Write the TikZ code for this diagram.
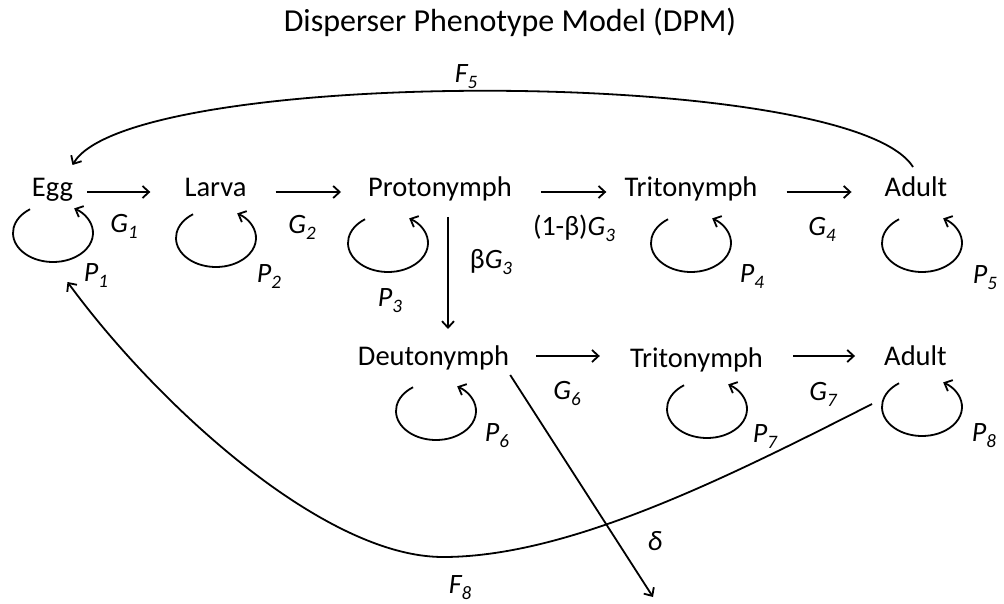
\documentclass[tikz,border=0pt]{standalone}
\usepackage{fontspec}
\setmainfont{Carlito}
\usetikzlibrary{arrows.meta}
\newcommand{\rsub}[1]{\raisebox{-6pt}{\fontsize{19}{19}\selectfont #1}}

\begin{document}
\begin{tikzpicture}[x=1pt, y=1pt,
  stage/.style={anchor=base, inner sep=0pt, font=\fontsize{28.5}{32}\selectfont},
  rate/.style={inner sep=0pt, font=\fontsize{28}{32}\selectfont\itshape},
  flow/.style={->, line width=1.8pt},
  >={Straight Barb[length=6.5pt, width=12pt]}
]
  \useasboundingbox (0,0) rectangle (1004,-604);
  \node[stage, font=\fontsize{32}{36}\selectfont] (title) at (510,-32)
    {Disperser Phenotype Model (DPM)};

  \node[stage] (egg)    at (52.5,-197) {Egg};
  \node[stage] (larva)  at (215.5,-197) {Larva};
  \node[stage] (proto)  at (440,-197) {Protonymph};
  \node[stage] (trito)  at (691,-197) {Tritonymph};
  \node[stage] (adult)  at (916,-197) {Adult};
  \node[stage] (deuto)  at (433.5,-365) {Deutonymph};
  \node[stage] (tritod) at (696.5,-367) {Tritonymph};
  \node[stage] (adultd) at (915.5,-365) {Adult};
  \coordinate (lost) at (653,-597);

  \draw[flow] ([xshift=14pt, yshift=5pt]egg.base east) -- ([xshift=-34pt, yshift=5pt]larva.base west);
  \draw[flow] ([xshift=29pt, yshift=5pt]larva.base east) -- ([xshift=-27pt, yshift=5pt]proto.base west);
  \draw[flow] ([xshift=29pt, yshift=5pt]proto.base east) -- ([xshift=-18pt, yshift=5pt]trito.base west);
  \draw[flow] ([xshift=29pt, yshift=5pt]trito.base east) -- ([xshift=-33pt, yshift=5pt]adult.base west);
  \draw[flow] ([xshift=27pt, yshift=9pt]deuto.base east) -- ([xshift=-30pt, yshift=11pt]tritod.base west);
  \draw[flow] ([xshift=30pt, yshift=11pt]tritod.base east) -- ([xshift=-29pt, yshift=9pt]adultd.base west);
  \draw[flow] ([xshift=8pt, yshift=-20pt]proto.base) -- ([xshift=14.5pt, yshift=36pt]deuto.base);
  \draw[flow] ([shift={(1pt,-10pt)}]deuto.base east) -- (lost);

  \draw[flow] ([shift={(-3pt,30pt)}]adult.base)
    .. controls (850,-66) and (130,-66) .. ([shift={(20pt,32pt)}]egg.base);
  \draw[flow] ([shift={(-12pt,-39pt)}]adultd.base west)
    .. controls (730,-476) and (570,-557) .. (443,-557)
    .. controls (323,-557) and (156,-403) .. ([shift={(15pt,-85pt)}]egg.base);

  \foreach \cx/\cy in {53/233, 216/238, 388/243, 691/243, 922/243, 436/411, 707/409, 922/407}
    \draw[flow] ([shift={(125:40 and 29)}]\cx,-\cy)
      arc[start angle=125, end angle=418, x radius=40, y radius=29];

  \node[rate] (g1) at (124,-226) {G\rsub{1}};
  \node[rate] (g2) at (302,-227) {G\rsub{2}};
  \node[rate] (g3a) at (574,-228) {{\upshape(1-β)}G\rsub{3}};
  \node[rate] (g3b) at (491,-262) {{\upshape β}G\rsub{3}};
  \node[rate] (g4) at (822,-229) {G\rsub{4}};
  \node[rate] (g6) at (567,-393) {G\rsub{6}};
  \node[rate] (g7) at (823,-394) {G\rsub{7}};
  \node[rate] (p1) at (96,-276) {P\rsub{1}};
  \node[rate] (p2) at (269,-277) {P\rsub{2}};
  \node[rate] (p3) at (390,-301) {P\rsub{3}};
  \node[rate] (p4) at (752,-277) {P\rsub{4}};
  \node[rate] (p5) at (985,-278) {P\rsub{5}};
  \node[rate] (p6) at (497,-436) {P\rsub{6}};
  \node[rate] (p7) at (765,-437) {P\rsub{7}};
  \node[rate] (p8) at (984,-436) {P\rsub{8}};
  \node[rate] (f5) at (466,-77) {F\rsub{5}};
  \node[rate] (f8) at (460,-588) {F\rsub{8}};
  \node[rate] (dl) at (655,-541) {δ};
\end{tikzpicture}
\end{document}
